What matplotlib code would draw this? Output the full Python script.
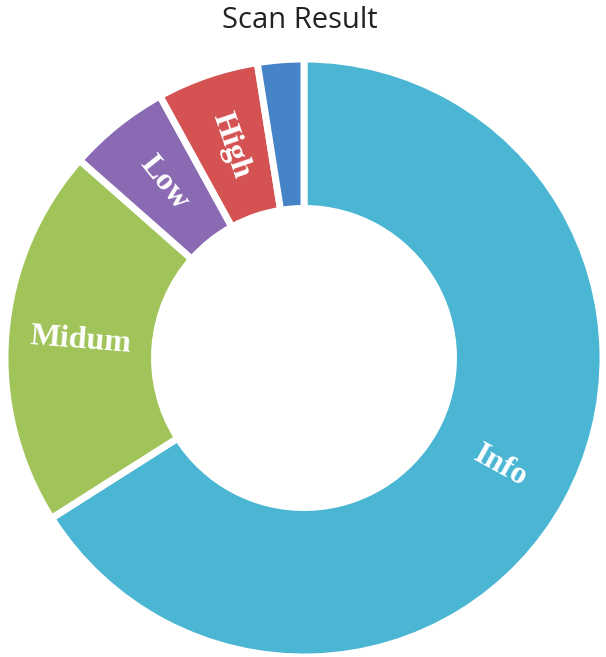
import matplotlib.pyplot as plt
import numpy as np

labels = ['Info', 'Midum', 'Low', 'High', '']
values = [66.0, 20.5, 5.5, 5.5, 2.5]
colors = ['#4bb6d4', '#a0c45a', '#8a6ab2', '#d45252', '#4684c8']

fig = plt.figure(figsize=(6.06, 6.57), dpi=100)
ax = fig.add_axes([5 / 606, 0.0, 598 / 606, 598 / 657])

wedges, _ = ax.pie(values, colors=colors, startangle=90, counterclock=False,
                   radius=1.0, wedgeprops=dict(width=0.5, edgecolor='white', linewidth=5))

# labels along the radius, flipped so they stay readable
total = sum(values)
start = 90.0
for lab, val in zip(labels, values):
    span = val / total * 360
    mid = start - span / 2
    start -= span
    if not lab:
        continue
    rad = np.deg2rad(mid)
    rot = mid
    if rot > 90:
        rot -= 180
    elif rot < -90:
        rot += 180
    ax.text(0.75 * np.cos(rad), 0.75 * np.sin(rad), lab, color='white',
            fontsize=23, fontweight='bold', family='Liberation Serif',
            rotation=rot, rotation_mode='anchor', ha='center', va='center')

ax.set_xlim(-1, 1)
ax.set_ylim(-1, 1)
ax.set_aspect('equal')
ax.axis('off')

fig.text(0.495, 1 - 20 / 657, 'Scan Result', ha='center', va='center',
         fontsize=21, family='Open Sans', color='#222222')

fig.savefig('out.png', dpi=100)
